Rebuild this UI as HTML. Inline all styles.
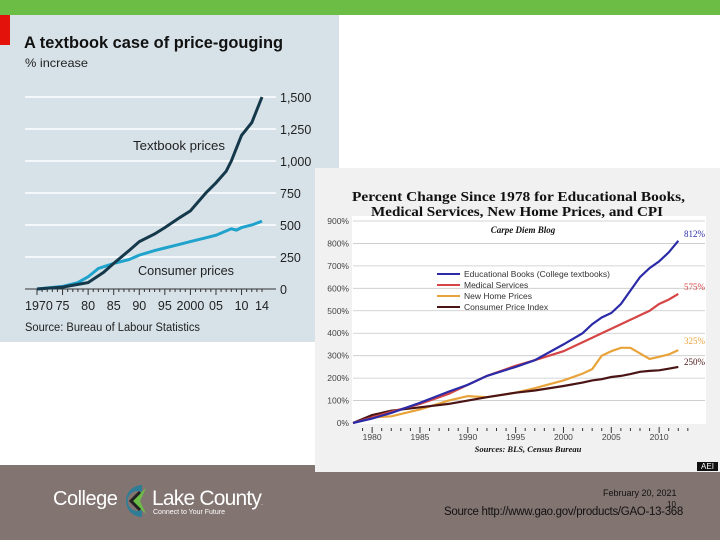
<!DOCTYPE html>
<html><head><meta charset="utf-8"><style>
body{margin:0;width:720px;height:540px;overflow:hidden;background:#fff;font-family:"Liberation Sans",sans-serif;position:relative}
div{position:absolute}
</style></head><body>
<div style="left:0;top:0;width:720px;height:15px;background:#6cbd45"></div>
<div style="left:0;top:15px;width:339px;height:327px;background:#d7e2e8"></div>
<div style="left:0;top:15px;width:10px;height:30px;background:#e3120b"></div>
<svg style="position:absolute;left:0;top:0" width="340" height="345" id="lc"></svg>
<div style="left:315px;top:168px;width:405px;height:304px;background:#f1f1f1"></div>
<svg style="position:absolute;left:0;top:0" width="720" height="475" id="rc"></svg>
<div style="left:697px;top:462px;width:21px;height:9px;background:#111;color:#fff;font-size:8px;line-height:9px;text-align:center">AEI</div>
<div style="left:0;top:472px;width:720px;height:68px;background:#827471"></div>
<div style="left:0;top:465px;width:315px;height:7px;background:#827471"></div>
<div style="left:53px;top:488px;color:#fff;font-size:20px;letter-spacing:-0.5px">College</div>
<svg style="position:absolute;left:120px;top:482px" width="32" height="38"><path d="M22 3 A16 16 0 1 0 22 35 L22 28 A10 10 0 1 1 22 10 Z" fill="#2e7d96"/><path d="M26 6 L12 19 L26 32 L20 19 Z" fill="#6cbd45"/><path d="M20 10 L11 19 L20 28" fill="none" stroke="#222" stroke-width="3"/></svg>
<div style="left:152px;top:487px;color:#fff;font-size:21px;letter-spacing:-0.8px">Lake County<span style="font-size:6px">.</span></div>
<div style="left:153px;top:509px;color:#fff;font-size:7px">Connect to Your Future</div>
<div style="left:603px;top:488px;color:#111;font-size:9px">February 20, 2021</div>
<div style="left:667px;top:500px;color:#111;font-size:8px">10</div>
<div style="left:444px;top:506px;color:#111;font-size:11.5px;letter-spacing:-0.3px">Source http://www.gao.gov/products/GAO-13-368</div>
<script>
// left chart data
const lYearsT=[1970,1975,1980,1983,1985,1988,1990,1993,1995,1998,2000,2003,2005,2007,2008,2010,2012,2014];
const lTextbook=[0,15,50,130,200,300,370,430,480,560,610,750,830,920,1000,1200,1300,1500];
const lYearsC=[1970,1975,1978,1980,1982,1985,1988,1990,1993,1995,1998,2000,2003,2005,2008,2009,2010,2012,2014];
const lConsumer=[0,20,50,95,160,200,230,265,300,320,350,370,400,420,470,460,480,500,530];
const lYTicks=[0,250,500,750,1000,1250,1500];
const lYLabels=["0","250","500","750","1,000","1,250","1,500"];
const lXTicks=[1970,1975,1980,1985,1990,1995,2000,2005,2010,2014];
const lXLabels=["1970","75","80","85","90","95","2000","05","10","14"];
// right chart data
const rYears=[1978,1980,1982,1985,1988,1990,1992,1995,1997,2000,2002,2003,2004,2005,2006,2007,2008,2009,2010,2011,2012];
const rBooks=[0,20,45,90,140,170,210,250,280,350,400,440,470,490,530,590,650,690,720,760,812];
const rMedical=[0,25,50,85,130,170,210,255,280,320,360,380,400,420,440,460,480,500,530,550,575];
const rHome=[0,25,30,60,100,120,115,135,155,190,220,240,300,320,335,335,310,285,295,305,325];
const rCPI=[0,35,55,70,85,100,115,135,145,165,180,190,195,205,210,218,228,232,235,242,250];
const rYTicks=[0,100,200,300,400,500,600,700,800,900];
const rXTicks=[1980,1985,1990,1995,2000,2005,2010];
const NS="http://www.w3.org/2000/svg";
function mk(svg,tag,attrs,text){const e=document.createElementNS(NS,tag);for(const k in attrs)e.setAttribute(k,attrs[k]);if(text!==undefined)e.textContent=text;svg.appendChild(e);return e;}
// Left
const lc=document.getElementById('lc');
const lx=y=>37+(y-1970)*(262-37)/44, ly=v=>289-v*32/250;
let e=mk(lc,'text',{x:24,y:48,'font-size':17,'font-weight':'bold',fill:'#111',textLength:259,lengthAdjust:'spacingAndGlyphs'},'A textbook case of price-gouging');


e=mk(lc,'text',{x:25,y:67,'font-size':12,fill:'#222',textLength:63,lengthAdjust:'spacingAndGlyphs'},'% increase');


lYTicks.forEach((t,i)=>{
  e=mk(lc,'line',{x1:25,x2:276,y1:ly(t),y2:ly(t),stroke:t===0?'#333':'#fff','stroke-width':t===0?1:1.5});
  
  
  e=mk(lc,'text',{x:280,y:ly(t)+5,'font-size':12.5,fill:'#222'},lYLabels[i]);
  
  
});
for(let y=1970;y<=2014;y++){e=mk(lc,'line',{x1:lx(y),x2:lx(y),y1:289,y2:y%5===0?295:292,stroke:'#333','stroke-width':1});
  
  }
lXTicks.forEach((t,i)=>{e=mk(lc,'text',{x:lx(t),y:310,'font-size':12.5,fill:'#222','text-anchor':i===0?'start':'middle'},lXLabels[i]);
  if(i===0)e.setAttribute('x',lx(t)-12);
  
  });
function lpath(xs,vs){return xs.map((x,i)=>(i?'L':'M')+lx(x).toFixed(1)+' '+ly(vs[i]).toFixed(1)).join(' ');}
e=mk(lc,'path',{d:lpath(lYearsC,lConsumer),fill:'none',stroke:'#1fa3cc','stroke-width':3});


e=mk(lc,'path',{d:lpath(lYearsT,lTextbook),fill:'none',stroke:'#15394b','stroke-width':3});


e=mk(lc,'text',{x:133,y:150,'font-size':12.5,fill:'#222',textLength:92,lengthAdjust:'spacingAndGlyphs'},'Textbook prices');


e=mk(lc,'text',{x:138,y:275,'font-size':12.5,fill:'#222',textLength:96,lengthAdjust:'spacingAndGlyphs'},'Consumer prices');


e=mk(lc,'text',{x:25,y:331,'font-size':11.5,fill:'#222',textLength:175,lengthAdjust:'spacingAndGlyphs'},'Source: Bureau of Labour Statistics');


// Right
const rc=document.getElementById('rc');
const rx=y=>353+(y-1978)*(658-371)/30, ry=v=>423-v*(423-221)/900;
e=mk(rc,'rect',{x:352,y:216,width:354,height:208,fill:'#fff'});


e=mk(rc,'text',{x:352,y:201,'font-size':13.5,'font-weight':'bold',fill:'#111',textLength:333,lengthAdjust:'spacingAndGlyphs','font-family':'Liberation Serif, serif'},'Percent Change Since 1978 for Educational Books,');


e=mk(rc,'text',{x:371,y:216,'font-size':13.5,'font-weight':'bold',fill:'#111',textLength:292,lengthAdjust:'spacingAndGlyphs','font-family':'Liberation Serif, serif'},'Medical Services, New Home Prices, and CPI');


e=mk(rc,'text',{x:523,y:233,'font-size':9,'font-weight':'bold','font-style':'italic',fill:'#111','text-anchor':'middle','font-family':'Liberation Serif, serif'},'Carpe Diem Blog');


rYTicks.forEach(t=>{
  if(t>0){e=mk(rc,'line',{x1:353,x2:705,y1:ry(t),y2:ry(t),stroke:'#c8c8c8','stroke-width':0.8});
  
  }
  e=mk(rc,'text',{x:349,y:ry(t)+3,'font-size':8.5,fill:'#444','text-anchor':'end'},t+'%');
  
  
});
for(let y=1979;y<=2013;y++){e=mk(rc,'line',{x1:rx(y),x2:rx(y),y1:y%5===0?427:428,y2:y%5===0?433:431,stroke:'#333','stroke-width':1});
  
  }
rXTicks.forEach(t=>{e=mk(rc,'text',{x:rx(t),y:440,'font-size':8.5,fill:'#444','text-anchor':'middle'},String(t));
  
  });
function rpath(vs){return rYears.map((x,i)=>(i?'L':'M')+rx(x).toFixed(1)+' '+ry(vs[i]).toFixed(1)).join(' ');}
const series=[[rHome,'#e8a33a','home-prices-line'],[rCPI,'#4a1414','cpi-line'],[rMedical,'#d64545','medical-services-line'],[rBooks,'#2b2ba8','educational-books-line']];
series.forEach(s=>{e=mk(rc,'path',{d:rpath(s[0]),fill:'none',stroke:s[1],'stroke-width':2.2});
  
  });
const leg=[['Educational Books  (College textbooks)','#2b2ba8'],['Medical Services','#d64545'],['New Home Prices','#e8a33a'],['Consumer Price Index','#4a1414']];
leg.forEach((l,i)=>{const y=274+i*11;
  e=mk(rc,'line',{x1:437,x2:460,y1:y,y2:y,stroke:l[1],'stroke-width':2});
  
  
  e=mk(rc,'text',{x:464,y:y+3,'font-size':8.5,fill:'#333'},l[0]);
  
  });
const ends=[[812,'812%','#2b2ba8'],[575,'575%','#d64545'],[325,'325%','#e8a33a'],[250,'250%','#4a1414']];
ends.forEach(en=>{e=mk(rc,'text',{x:684,y:ry(en[0])+(en[1]==='325%'?-6:en[1]==='250%'?-2:-4),'font-size':9,fill:en[2],'font-family':'Liberation Serif, serif'},en[1]);
  
  });
e=mk(rc,'text',{x:528,y:452,'font-size':8.5,'font-weight':'bold','font-style':'italic',fill:'#111','text-anchor':'middle','font-family':'Liberation Serif, serif'},'Sources: BLS, Census Bureau');


</script>
</body></html>
